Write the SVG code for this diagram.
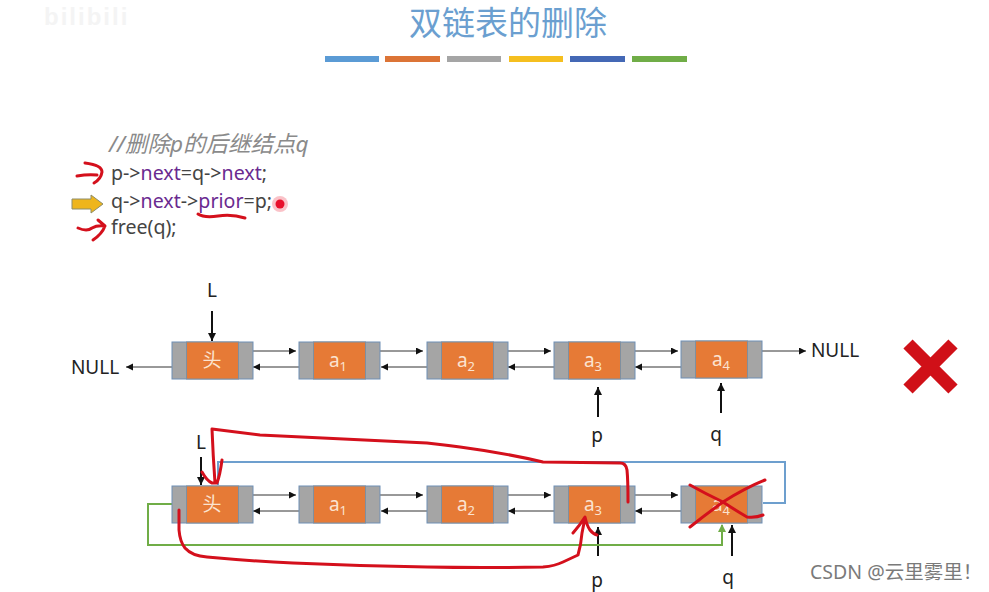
<svg xmlns="http://www.w3.org/2000/svg" width="989" height="592" viewBox="0 0 989 592">
<style>
text{font-family:"Noto Sans","Noto Sans CJK SC",sans-serif}
.side{fill:#a5a5a5;stroke:#6f8fb5;stroke-width:1}
.mid{fill:#e67a36;stroke:#7f8f9f;stroke-width:1}
.val{fill:#fbe3d0;font-size:19px;text-anchor:middle}
.val tspan{font-size:13px}
.lbl{fill:#222;font-size:19px;text-anchor:middle}
.link{stroke:#333;stroke-width:1;fill:none;marker-end:url(#a)}
.ptr{stroke:#111;stroke-width:2;fill:none;marker-end:url(#a2)}
.code{font-size:19.600px;fill:#444}
.kw{fill:#6a2a90}
.red{stroke:#d4101c;stroke-width:3;fill:none;stroke-linecap:round;stroke-linejoin:round}
.bar{stroke:none}
</style>
<defs>
<marker id="a" markerWidth="8" markerHeight="8" refX="7" refY="3.5" orient="auto" markerUnits="userSpaceOnUse"><path d="M0 0L7 3.5L0 7Z" fill="#111"/></marker>
<marker id="a2" markerWidth="10" markerHeight="10" refX="8" refY="4" orient="auto" markerUnits="userSpaceOnUse"><path d="M0 0L8 4L0 8Z" fill="#111"/></marker>
<marker id="g" markerWidth="10" markerHeight="10" refX="7" refY="4" orient="auto" markerUnits="userSpaceOnUse"><path d="M0 0L8 4L0 8Z" fill="#70ad47"/></marker>
<g id="box"><rect class="side" x="0" y="0" width="81" height="37"/><rect class="mid" x="14.500" y="0" width="52" height="37"/></g>
</defs>
<rect width="989" height="592" fill="#fff"/>
<text x="44" y="25" font-size="24" font-weight="700" fill="#f4f4f4" style="font-family:'Liberation Sans',sans-serif;letter-spacing:2px">bilibili</text>
<g id="title"><text x="508" y="35" font-size="33" fill="#6b9fd0" text-anchor="middle">双链表的删除</text>
<rect class="bar" x="325" y="56" width="54" height="6" fill="#5b9bd5"/><rect class="bar" x="385" y="56" width="55" height="6" fill="#dc7436"/><rect class="bar" x="447" y="56" width="54" height="6" fill="#a5a5a5"/><rect class="bar" x="509" y="56" width="54" height="6" fill="#f5bf1f"/><rect class="bar" x="570" y="56" width="55" height="6" fill="#4468b5"/><rect class="bar" x="632" y="56" width="55" height="6" fill="#70ad47"/></g>
<g id="code">
<text x="109" y="152" font-size="22.500" font-style="italic" fill="#8a8a8a">//删除p的后继结点q</text>
<text class="code" x="111" y="180">p-&gt;<tspan class="kw">next</tspan>=q-&gt;<tspan class="kw">next</tspan>;</text>
<text class="code" x="111" y="208">q-&gt;<tspan class="kw">next</tspan>-&gt;<tspan class="kw">prior</tspan>=p;</text>
<text class="code" x="111" y="234">free(q);</text>
<path d="M72 199H91V195L103 204L91 213V209H72Z" fill="#eeb51c" stroke="#8d8d6a" stroke-width="1"/>
</g>
<g id="connectors">
<path class="link" d="M246 351H296"/><path class="link" d="M373 351H423"/><path class="link" d="M501 351H551"/><path class="link" d="M628 351H678"/>
<path class="link" d="M306 367H253"/><path class="link" d="M434 367H381"/><path class="link" d="M561 367H508"/><path class="link" d="M688 367H635"/>
<path class="link" d="M179 367H126"/><path class="link" d="M755 351H806"/>
<path class="ptr" d="M212 311V341"/><path class="ptr" d="M598 417V387"/><path class="ptr" d="M721 413V383"/>
<path class="link" d="M246 495H296"/><path class="link" d="M373 495H423"/><path class="link" d="M501 495H551"/><path class="link" d="M628 495H678"/>
<path class="link" d="M306 511H253"/><path class="link" d="M434 511H381"/><path class="link" d="M561 511H508"/><path class="link" d="M688 511H635"/>
<path class="ptr" d="M201 457V485"/><path class="ptr" d="M598 556V527"/><path class="ptr" d="M732 556V525"/>
<path d="M763 503H785V462H218V485" fill="none" stroke="#6d9fce" stroke-width="2"/>
<path d="M172 504H148V545H722V525" fill="none" stroke="#70ad47" stroke-width="2" marker-end="url(#g)"/>
</g>
<g id="n1"><use href="#box" x="172" y="342"/><text class="val" x="212" y="367">头</text></g>
<g id="n2"><use href="#box" x="299" y="342"/><text class="val" x="338" y="367">a<tspan dy="4">1</tspan></text></g>
<g id="n3"><use href="#box" x="427" y="342"/><text class="val" x="466" y="367">a<tspan dy="4">2</tspan></text></g>
<g id="n4"><use href="#box" x="554" y="342"/><text class="val" x="593" y="367">a<tspan dy="4">3</tspan></text></g>
<g id="n5"><use href="#box" x="681" y="341"/><text class="val" x="721" y="366">a<tspan dy="4">4</tspan></text></g>
<g id="m1"><use href="#box" x="172" y="486"/><text class="val" x="212" y="511">头</text></g>
<g id="m2"><use href="#box" x="299" y="486"/><text class="val" x="338" y="511">a<tspan dy="4">1</tspan></text></g>
<g id="m3"><use href="#box" x="427" y="486"/><text class="val" x="466" y="511">a<tspan dy="4">2</tspan></text></g>
<g id="m4"><use href="#box" x="554" y="486"/><text class="val" x="593" y="511">a<tspan dy="4">3</tspan></text></g>
<g id="m5"><use href="#box" x="681" y="486"/><text class="val" x="721" y="511">a<tspan dy="4">4</tspan></text></g>
<g id="labels">
<text class="lbl" x="212" y="297">L</text><text class="lbl" x="95" y="374">NULL</text><text class="lbl" x="835" y="357">NULL</text>
<text class="lbl" x="597" y="442">p</text><text class="lbl" x="716" y="441">q</text>
<text class="lbl" x="201" y="449">L</text><text class="lbl" x="597" y="587">p</text><text class="lbl" x="728" y="584">q</text>
</g>
<g id="ink">
<path class="red" d="M77 176Q88 174 97 175M85 163Q102 165 102 172Q101 179 94 183" stroke-width="2.500"/>
<path class="red" d="M78 228Q87 232 92 228Q97 225 105 226M98 220L105 226Q102 234 93 240" stroke-width="2.500"/>
<path class="red" d="M198 214Q204 218 218 216Q232 214 245 218" stroke-width="2.500"/>
<circle cx="280" cy="204" r="8" fill="#f8a8b0" opacity=".7"/><circle cx="280" cy="204" r="4.500" fill="#e8102c"/>
<path class="red" d="M628 502Q628 480 627 470Q626 463 620 463L543 462Q505 453 460 447Q445 445 427 443L260 435L212 429Q213 455 215 483M202 472Q207 481 212 483L217 483Q220 475 222 460"/>
<path class="red" d="M179 510L179 530Q180 542 185 548Q192 556 207 557Q250 561 293 563Q360 566 427 567Q480 568 543 567Q555 566 563 562L578 555Q581 545 582 533L585 518M573 533Q580 525 585 517Q587 526 590 530Q593 534 597 535"/>
<path class="red" d="M690 485Q706 494 723 502Q735 510 747 517Q756 518 763 515M690 527Q705 515 723 502Q745 488 765 480"/>
<path d="M908 344L953 389M953 344L908 389" stroke="#d01018" stroke-width="13" fill="none"/>
</g>
<text x="810" y="579" font-size="19.500" fill="#7a7a7a">CSDN @云里雾里！</text>
</svg>
